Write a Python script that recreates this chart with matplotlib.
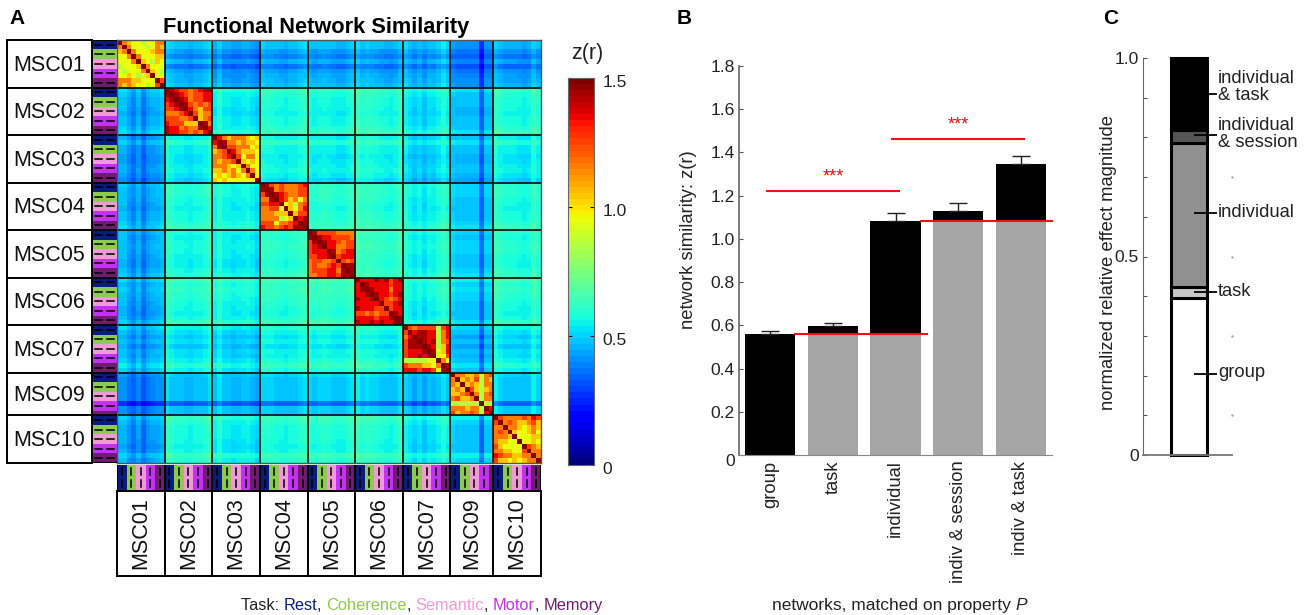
import numpy as np
import matplotlib
matplotlib.use('Agg')
import matplotlib.pyplot as plt
from matplotlib.colors import ListedColormap
from matplotlib.patches import Rectangle
from matplotlib.transforms import ScaledTranslation

plt.rcParams['font.family'] = ['Liberation Sans', 'DejaVu Sans']
W, H = 1304, 615

subjects = ['MSC01', 'MSC02', 'MSC03', 'MSC04', 'MSC05', 'MSC06', 'MSC07', 'MSC09', 'MSC10']

# session similarity inside each subject, upper triangle, digit d means z = 0.65 + 0.1*d
within = {
    'MSC01': ['9543323355', '953332354', '95333455', '9533344', '943243', '95333', '9432', '933', '96', '9'],
    'MSC02': ['9876656788', '987656677', '98756677', '9865656', '975466', '96455', '9456', '985', '97', '9'],
    'MSC03': ['9754555434', '985545443', '96655534', '9754443', '963553', '94343', '9533', '953', '93', '9'],
    'MSC04': ['9865655567', '985655566', '98765566', '9764535', '934256', '94357', '9466', '978', '98', '9'],
    'MSC05': ['9866665555', '987766665', '98776566', '9775566', '985677', '96777', '9656', '988', '98', '9'],
    'MSC06': ['9777878678', '987777677', '98777577', '9877678', '976567', '96678', '9677', '987', '99', '9'],
    'MSC07': ['9656666267', '978877257', '98877257', '9878256', '987247', '98347', '9336', '953', '98', '9'],
    'MSC09': ['955445256', '94546254', '9454255', '964245', '95256', '9255', '922', '97', '9'],
    'MSC10': ['9655556576', '956544564', '95543454', '9433453', '933344', '93343', '9654', '955', '95', '9'],
}

# mean similarity between two subjects, upper triangle
between = {
    'MSC01': [0.45, 0.42, 0.45, 0.44, 0.44, 0.46, 0.39, 0.43],
    'MSC02': [0.54, 0.58, 0.56, 0.58, 0.53, 0.47, 0.58],
    'MSC03': [0.56, 0.54, 0.56, 0.51, 0.47, 0.54],
    'MSC04': [0.59, 0.59, 0.56, 0.49, 0.58],
    'MSC05': [0.60, 0.56, 0.49, 0.58],
    'MSC06': [0.56, 0.49, 0.58],
    'MSC07': [0.47, 0.53],
    'MSC09': [0.49],
}

# how far each session sits from its subject's mean
session_offset = {
    'MSC01': [0.03, 0.03, -0.02, -0.06, 0.00, -0.08, -0.02, 0.00, 0.01, 0.03],
    'MSC02': [0.05, 0.02, 0.00, 0.00, -0.01, -0.02, 0.00, 0.00, 0.02, 0.05],
    'MSC03': [0.00, 0.05, 0.00, 0.00, -0.02, -0.01, 0.00, 0.01, -0.01, -0.04],
    'MSC04': [0.02, 0.01, 0.01, 0.00, -0.01, -0.02, 0.00, 0.00, 0.02, 0.04],
    'MSC05': [0.02, 0.00, 0.01, 0.02, 0.01, 0.00, -0.01, -0.01, 0.01, 0.03],
    'MSC06': [0.06, 0.02, 0.03, 0.02, 0.01, 0.00, -0.01, -0.02, 0.00, 0.04],
    'MSC07': [0.03, 0.00, -0.03, 0.00, -0.04, 0.00, -0.01, 0.02, 0.06, 0.02],
    'MSC09': [0.02, 0.00, 0.00, 0.00, 0.00, 0.00, -0.14, 0.00, 0.00],
    'MSC10': [0.05, 0.02, 0.00, 0.00, 0.00, -0.01, -0.02, -0.01, 0.05, 0.01],
}

task_names = ['Rest', 'Coherence', 'Semantic', 'Motor', 'Memory']
task_colors = ['#0b1c80', '#8ccb50', '#f09ad8', '#c232f0', '#701c70']
tasks_10 = [0, 0, 1, 1, 2, 2, 3, 3, 4, 4]
tasks_9 = [0, 0, 1, 1, 2, 2, 3, 3, 4]

bar_labels = ['group', 'task', 'individual', 'indiv & session', 'indiv & task']
bar_means = [0.56, 0.597, 1.085, 1.13, 1.345]
bar_errs = [0.012, 0.015, 0.035, 0.035, 0.04]
bar_base = [0, 0.56, 0.56, 1.085, 1.085]

effect_labels = ['group', 'task', 'individual', 'individual\n& session', 'individual\n& task']
effect_tops = [0.395, 0.424, 0.786, 0.819, 1.0]
effect_colors = ['white', '#c8c8c8', '#909090', '#555555', 'black']
effect_marks = [0.205, 0.41, 0.61, 0.805, 0.91]
effect_label_y = [0.208, 0.412, 0.61, 0.808, 0.928]


def px_axes(left, top, right, bottom):
    ax = fig.add_axes([left / W, 1 - bottom / H, (right - left) / W, (bottom - top) / H])
    ax.patch.set_alpha(0)
    return ax


fig = plt.figure(figsize=(W / 100, H / 100), dpi=100)

# build the session matrix
sizes = [len(session_offset[s]) for s in subjects]
edges = np.concatenate([[0], np.cumsum(sizes)])
n = edges[-1]
mat = np.zeros((n, n))
for a, s in enumerate(subjects):
    ia = np.arange(edges[a], edges[a + 1])
    for i, row in enumerate(within[s]):
        for k, d in enumerate(row):
            v = 0.65 + 0.1 * int(d)
            mat[ia[i], ia[i + k]] = v
            mat[ia[i + k], ia[i]] = v
    for b, m in enumerate(between.get(s, [])):
        t = subjects[a + b + 1]
        block = m + np.add.outer(session_offset[s], session_offset[t])
        ib = np.arange(edges[a + b + 1], edges[a + b + 2])
        mat[np.ix_(ia, ib)] = block
        mat[np.ix_(ib, ia)] = block.T

jet = plt.get_cmap('jet', 64)

# A: matrix
ax = px_axes(117, 40, 541, 463)
ax.imshow(mat, cmap=jet, vmin=0, vmax=1.5, aspect='auto', interpolation='nearest')
for e in edges[1:-1]:
    ax.axhline(e - 0.5, color='#101818', lw=1.3)
    ax.axvline(e - 0.5, color='#101818', lw=1.3)
ax.set_xticks([])
ax.set_yticks([])
for sp in ax.spines.values():
    sp.set_color('#555555')
    sp.set_linewidth(1)

tasks = np.concatenate([tasks_9 if z == 9 else tasks_10 for z in sizes])
task_cmap = ListedColormap(task_colors)

# left strip
ax = px_axes(92, 40, 117, 463)
ax.imshow(tasks[:, None], cmap=task_cmap, vmin=0, vmax=4, aspect='auto', interpolation='nearest', extent=(0, 1, n, 0))
for e, z in zip(edges[:-1], sizes):
    for k in range(5):
        y = e + 2 * k + 1
        if y < e + z:
            ax.plot([0.12, 0.4], [y, y], color='k', lw=1.1)
            ax.plot([0.58, 0.86], [y, y], color='k', lw=1.1)
for e in edges:
    ax.axhline(e, color='k', lw=1.5)
ax.set_xlim(0, 1)
ax.set_ylim(n, 0)
ax.axis('off')

# bottom strip
ax = px_axes(117, 465, 541, 491)
ax.imshow(tasks[None, :], cmap=task_cmap, vmin=0, vmax=4, aspect='auto', interpolation='nearest', extent=(0, n, 1, 0))
for e, z in zip(edges[:-1], sizes):
    for k in range(5):
        x = e + 2 * k + 1
        if x < e + z:
            ax.plot([x, x], [0.12, 0.4], color='k', lw=1.1)
            ax.plot([x, x], [0.58, 0.86], color='k', lw=1.1)
for e in edges:
    ax.axvline(e, color='k', lw=1.5)
ax.set_xlim(0, n)
ax.set_ylim(1, 0)
ax.axis('off')

# subject label boxes
ax = px_axes(7, 40, 92, 463)
ax.set_xlim(0, 1)
ax.set_ylim(n, 0)
ax.axis('off')
for a, s in enumerate(subjects):
    ax.add_patch(Rectangle((0, edges[a]), 1, sizes[a], fc='white', ec='k', lw=1.4, clip_on=False))
    ax.text(0.5, edges[a] + sizes[a] / 2 + 0.3, s, ha='center', va='center', fontsize=15.5, color='#111111')

ax = px_axes(117, 491, 541, 576)
ax.set_xlim(0, n)
ax.set_ylim(1, 0)
ax.axis('off')
for a, s in enumerate(subjects):
    ax.add_patch(Rectangle((edges[a], 0), sizes[a], 1, fc='white', ec='k', lw=1.4, clip_on=False))
    ax.text(edges[a] + sizes[a] / 2, 0.5, s, ha='center', va='center', rotation=90, fontsize=15.5, color='#111111')

# colorbar
ax = px_axes(568, 78, 594, 465)
ax.imshow(np.linspace(1.5, 0, 64)[:, None], cmap=jet, vmin=0, vmax=1.5, aspect='auto', extent=(0, 1, 0, 1.5))
ax.set_xticks([])
ax.yaxis.tick_right()
ax.set_yticks([0, 0.5, 1.0, 1.5])
ax.set_yticklabels(['0', '0.5', '1.0', '1.5'], fontsize=12.5, color='#222222')
ax.tick_params(axis='y', direction='in', length=3, width=0.8, pad=6, left=True, right=True)
shift = ScaledTranslation(0, -3 / 100, fig.dpi_scale_trans)
for lab in ax.get_yticklabels():
    lab.set_transform(lab.get_transform() + shift)
for sp in ax.spines.values():
    sp.set_color('#666666')

# B: bars
ax = px_axes(739, 66, 1052, 455)
x = np.arange(1, 6)
for i in range(5):
    if bar_base[i] > 0:
        ax.bar(x[i], bar_base[i], width=0.8, color='#a6a6a6')
    ax.bar(x[i], bar_means[i] - bar_base[i], bottom=bar_base[i], width=0.8, color='black')
ax.errorbar(x, bar_means, yerr=[np.zeros(5), bar_errs], fmt='none', ecolor='#222222', elinewidth=1, capsize=6.5, capthick=1)
ax.plot([1.4, 3.5], [bar_means[0]] * 2, color='#f01010', lw=1.5)
ax.plot([3.4, 5.5], [bar_means[2]] * 2, color='#f01010', lw=1.5, clip_on=False)
ax.plot([0.95, 3.05], [1.222, 1.222], color='#f01010', lw=1.5)
ax.plot([2.95, 5.05], [1.46, 1.46], color='#f01010', lw=1.5)
ax.text(2, 1.285, '***', color='#f01010', fontsize=13, ha='center', va='center')
ax.text(4, 1.525, '***', color='#f01010', fontsize=13, ha='center', va='center')
ax.set_xlim(0.5, 5.5)
ax.set_ylim(0, 1.8)
ax.set_yticks(np.arange(0, 1.9, 0.2))
ax.set_yticklabels(['0', '0.2', '0.4', '0.6', '0.8', '1.0', '1.2', '1.4', '1.6', '1.8'], fontsize=12.6, color='#222222')
ax.set_xticks(x)
ax.set_xticklabels(bar_labels, rotation=90, fontsize=13.2, color='#222222')
ax.tick_params(axis='y', direction='in', length=3, width=0.8, pad=3, color='#555555')
ax.tick_params(axis='x', length=0, pad=4)
ax.get_yticklabels()[0].set_transform(ax.get_yticklabels()[0].get_transform() + ScaledTranslation(0, -5 / 100, fig.dpi_scale_trans))
ax.spines['top'].set_visible(False)
ax.spines['right'].set_visible(False)
ax.spines['bottom'].set_color('#888888')
ax.spines['left'].set_color('#666666')
ax.spines['left'].set_linewidth(1.2)
ax.set_ylabel('network similarity: z(r)', fontsize=13.2, color='#222222')
ax.yaxis.set_label_coords(-0.134, 0.553)

# C: stacked effect bar
ax = px_axes(1143, 58, 1232, 455)
bottom = 0
for top, col in zip(effect_tops, effect_colors):
    ax.bar(0.522, top - bottom, bottom=bottom, width=0.405, color=col, edgecolor='black', linewidth=2.2, clip_on=False)
    bottom = top
for i, (lab, m, ly) in enumerate(zip(effect_labels, effect_marks, effect_label_y)):
    start = 0.74 if i == 4 else 0.573
    ax.plot([start, 0.83], [m, m], color='black', lw=1.3, clip_on=False, solid_capstyle='butt')
    ax.text(0.84, ly, lab, fontsize=13.2, color='#222222', ha='left', va='center', linespacing=1.0, clip_on=False)
ax.plot([1, 1, 1, 1], [0.1, 0.3, 0.5, 0.7], ls='none', marker='.', ms=1.5, color='#aaaaaa', clip_on=False)
ax.set_xlim(0, 1)
ax.set_ylim(0, 1)
ax.set_xticks([])
ax.set_yticks(np.arange(0, 1.01, 0.1))
ax.set_yticklabels(['0', '', '', '', '', '0.5', '', '', '', '', '1.0'], fontsize=12.6, color='#222222')
ax.tick_params(axis='y', direction='in', length=3, width=0.8, pad=3, color='#555555')
ax.spines['top'].set_visible(False)
ax.spines['right'].set_visible(False)
ax.spines['left'].set_color('#666666')
ax.spines['bottom'].set_color('#777777')
ax.spines['bottom'].set_linewidth(1.3)
ax.set_ylabel('normalized relative effect magnitude', fontsize=13.2, color='#222222')
ax.yaxis.set_label_coords(-0.292, 0.486)

# figure level text, in pixels
over = px_axes(0, 0, W, H)
over.set_xlim(0, W)
over.set_ylim(H, 0)
over.axis('off')
over.text(9, 19, 'A', fontsize=15, fontweight='bold', va='center')
over.text(677, 19, 'B', fontsize=15, fontweight='bold', va='center')
over.text(1103, 19, 'C', fontsize=15, fontweight='bold', va='center')
over.text(316, 27, 'Functional Network Similarity', fontsize=15.7, fontweight='bold', ha='center', va='center')
over.text(587, 54, 'z(r)', fontsize=15.5, ha='center', va='center', color='#222222')

renderer = fig.canvas.get_renderer()


def write_chain(start, y, parts, size):
    # one piece of text after another, each with its own colour and style
    cur = start
    for s, col, style in parts:
        t = over.text(cur, y, s.replace(' ', '\u00a0'), fontsize=size, color=col, fontstyle=style, va='baseline')
        cur += t.get_window_extent(renderer).width


write_chain(772, 610, [('networks, matched on property ', '#222222', 'normal'), ('P', '#222222', 'italic')], 12.5)

legend_parts = [('Task: ', '#222222', 'normal')]
for i, (name, col) in enumerate(zip(task_names, task_colors)):
    legend_parts.append((name, col, 'normal'))
    if i < len(task_names) - 1:
        legend_parts.append((', ', '#222222', 'normal'))
write_chain(241, 610, legend_parts, 11.75)

fig.savefig('out.png', dpi=100)
